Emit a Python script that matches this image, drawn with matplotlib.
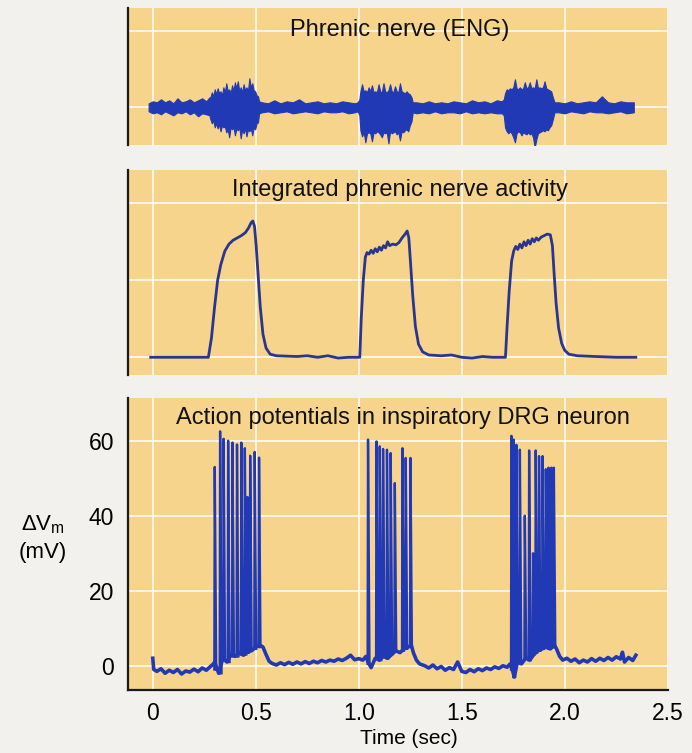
import matplotlib.pyplot as plt
import numpy as np

plt.rcParams['font.family'] = ['Liberation Sans', 'DejaVu Sans']
plt.rcParams['mathtext.default'] = 'regular'

# --- Phrenic nerve ENG: envelope (upper / lower) ---
eng_t = [-0.02, 0.0, 0.02, 0.04, 0.06, 0.08, 0.10, 0.12, 0.14, 0.16, 0.18, 0.20, 0.22, 0.24, 0.26, 0.275,
         0.280, 0.287, 0.294, 0.301, 0.308, 0.315, 0.322, 0.329, 0.336, 0.343, 0.350, 0.357, 0.364, 0.371,
         0.378, 0.385, 0.392, 0.399, 0.406, 0.413, 0.420, 0.427, 0.434, 0.441, 0.448, 0.455, 0.462, 0.469,
         0.476, 0.483, 0.490, 0.497, 0.504, 0.511, 0.516,
         0.53, 0.56, 0.59, 0.62, 0.65, 0.68, 0.71, 0.74, 0.77, 0.80, 0.83, 0.86, 0.89, 0.92, 0.95, 0.98, 0.995,
         1.003, 1.008, 1.016, 1.024, 1.032, 1.040, 1.048, 1.056, 1.064, 1.072, 1.080, 1.088, 1.096, 1.104,
         1.112, 1.120, 1.128, 1.136, 1.144, 1.152, 1.160, 1.168, 1.176, 1.184, 1.192, 1.200, 1.208, 1.216,
         1.224, 1.232, 1.240, 1.248, 1.256, 1.262,
         1.28, 1.31, 1.34, 1.37, 1.40, 1.43, 1.46, 1.49, 1.52, 1.55, 1.58, 1.61, 1.64, 1.67, 1.695,
         1.704, 1.710, 1.718, 1.726, 1.734, 1.742, 1.750, 1.758, 1.766, 1.774, 1.782, 1.790, 1.798, 1.806,
         1.814, 1.822, 1.830, 1.838, 1.846, 1.854, 1.862, 1.870, 1.878, 1.886, 1.894, 1.902, 1.910, 1.918,
         1.926, 1.934, 1.942, 1.950,
         1.97, 2.00, 2.03, 2.06, 2.09, 2.12, 2.15, 2.18, 2.21, 2.24, 2.27, 2.30, 2.335]
eng_hi = [0.4, 0.6, 0.5, 0.8, 0.5, 0.7, 0.4, 0.9, 0.5, 0.6, 0.8, 0.5, 0.7, 0.9, 0.6, 1.0,
          1.0, 1.5, 1.1, 1.8, 1.3, 1.9, 1.4, 1.6, 1.2, 2.0, 1.5, 2.4, 1.6, 1.8,
          1.4, 2.2, 1.7, 2.5, 1.9, 2.6, 1.6, 2.0, 1.5, 2.3, 1.7, 2.0, 1.6, 2.9,
          2.0, 2.4, 1.7, 1.6, 1.2, 1.1, 0.6,
          0.5, 0.4, 0.7, 0.4, 0.6, 0.5, 0.8, 0.4, 0.5, 0.6, 0.4, 0.5, 0.4, 0.6, 0.5, 0.4, 0.5,
          0.8, 1.6, 2.3, 1.6, 1.7, 1.5, 2.0, 1.6, 2.2, 1.5, 1.6, 1.5, 2.3, 1.6,
          1.5, 2.4, 1.6, 1.5, 1.7, 2.3, 1.6, 1.5, 2.1, 1.6, 1.5, 2.4, 1.6, 1.5,
          1.4, 1.6, 1.4, 1.3, 1.0, 0.5,
          0.5, 0.4, 0.6, 0.4, 0.5, 0.4, 0.6, 0.5, 0.4, 0.7, 0.5, 0.6, 0.4, 0.7, 0.6,
          0.8, 1.4, 1.8, 1.7, 1.9, 1.8, 2.0, 2.8, 1.9, 1.8, 2.0, 1.8, 1.9, 2.5,
          1.9, 2.0, 2.5, 1.9, 2.0, 1.9, 2.8, 1.9, 2.0, 1.9, 2.0, 2.6, 1.9, 1.8,
          1.7, 1.6, 1.0, 0.5,
          0.5, 0.4, 0.6, 0.4, 0.5, 0.6, 0.5, 1.1, 0.5, 0.4, 0.6, 0.5, 0.5]
eng_lo = [-0.4, -0.6, -0.5, -0.7, -0.4, -0.6, -0.8, -0.5, -0.6, -0.4, -0.7, -0.5, -0.9, -0.6, -0.7, -0.8,
          -1.2, -1.6, -1.3, -2.0, -1.6, -2.1, -1.7, -2.4, -1.8, -2.0, -1.9, -2.5, -2.2, -3.0,
          -2.0, -2.2, -2.0, -2.8, -2.1, -2.3, -2.0, -3.1, -2.2, -2.6, -2.1, -2.9, -2.2, -2.4,
          -2.1, -2.8, -2.0, -2.2, -1.6, -1.5, -0.6,
          -0.5, -0.4, -0.6, -0.5, -0.4, -0.6, -0.5, -0.4, -0.5, -0.6, -0.4, -0.5, -0.5, -0.4, -0.6, -0.5, -0.4,
          -0.8, -2.3, -2.9, -2.5, -3.5, -2.6, -2.5, -2.6, -3.4, -2.5, -2.6, -2.4, -2.5, -2.7,
          -3.0, -2.5, -2.6, -2.5, -3.6, -2.4, -2.6, -2.5, -2.4, -2.7, -2.5, -3.3, -2.4, -2.5,
          -2.3, -2.2, -2.4, -1.8, -1.4, -0.5,
          -0.6, -0.5, -0.6, -0.4, -0.6, -0.5, -0.5, -0.6, -0.4, -0.6, -0.5, -0.6, -0.5, -0.6, -0.6,
          -0.8, -2.0, -2.4, -2.6, -2.4, -2.6, -3.0, -3.5, -2.6, -2.4, -2.5, -2.8, -2.5, -2.6,
          -2.7, -2.5, -2.7, -2.6, -3.0, -4.0, -3.2, -2.6, -2.5, -2.4, -2.3, -2.4, -2.2, -2.3,
          -2.0, -1.8, -1.2, -0.5,
          -0.5, -0.6, -0.4, -0.5, -0.6, -0.4, -0.5, -0.5, -0.6, -0.5, -0.4, -0.6, -0.5]

# --- Integrated phrenic nerve activity ---
int_t = [-0.01, 0.27, 0.285, 0.30, 0.315, 0.33, 0.35, 0.37, 0.39, 0.41, 0.43, 0.45, 0.465, 0.478, 0.486, 0.494,
         0.502, 0.512, 0.522, 0.535, 0.55, 0.57, 0.60, 0.70, 0.75, 0.80, 0.85, 0.90, 0.95, 1.0,
         1.005, 1.012, 1.022, 1.032, 1.04, 1.05, 1.06, 1.07, 1.08, 1.09, 1.10, 1.11, 1.12, 1.13, 1.14, 1.15,
         1.165, 1.18, 1.195, 1.21, 1.225, 1.235, 1.243, 1.252, 1.262, 1.275, 1.29, 1.31, 1.34, 1.40, 1.45,
         1.50, 1.55, 1.60, 1.65, 1.70,
         1.712, 1.72, 1.73, 1.742, 1.752, 1.762, 1.772, 1.782, 1.792, 1.802, 1.812, 1.822, 1.832, 1.842, 1.852,
         1.862, 1.872, 1.885, 1.90, 1.915, 1.93, 1.94, 1.948, 1.958, 1.97, 1.985, 2.0, 2.02, 2.06, 2.15, 2.25, 2.345]
int_v = [0.0, 0.0, 0.25, 0.65, 1.0, 1.2, 1.38, 1.47, 1.52, 1.55, 1.58, 1.62, 1.68, 1.75, 1.77, 1.70,
         1.45, 1.05, 0.65, 0.30, 0.12, 0.04, 0.02, 0.01, 0.02, 0.0, 0.02, -0.01, 0.0, 0.0,
         0.0, 0.5, 1.0, 1.30, 1.36, 1.34, 1.39, 1.35, 1.41, 1.37, 1.43, 1.39, 1.45, 1.42, 1.50, 1.45,
         1.47, 1.46, 1.49, 1.55, 1.60, 1.64, 1.55, 1.20, 0.80, 0.40, 0.17, 0.07, 0.03, 0.02, 0.03,
         0.0, -0.01, 0.01, 0.0, 0.0,
         0.0, 0.4, 0.85, 1.25, 1.38, 1.44, 1.40, 1.47, 1.42, 1.50, 1.45, 1.52, 1.47, 1.54, 1.50,
         1.55, 1.52, 1.56, 1.58, 1.60, 1.59, 1.45, 1.10, 0.70, 0.38, 0.18, 0.09, 0.04, 0.02, 0.01, 0.0, 0.0]

# --- DRG neuron membrane potential: baseline trace ---
drg_t = [0.0, 0.005, 0.02, 0.04, 0.06, 0.08, 0.10, 0.12, 0.14, 0.16, 0.18, 0.20, 0.22, 0.24, 0.26, 0.28, 0.295,
         0.30, 0.32, 0.34, 0.36, 0.38, 0.40, 0.42, 0.44, 0.46, 0.48, 0.50, 0.52, 0.535, 0.55, 0.565, 0.58,
         0.60, 0.62, 0.64, 0.66, 0.68, 0.70, 0.72, 0.74, 0.76, 0.78, 0.80, 0.82, 0.84, 0.86, 0.88, 0.90,
         0.92, 0.94, 0.96, 0.97, 0.98, 1.00, 1.02, 1.035,
         1.045, 1.06, 1.08, 1.10, 1.12, 1.14, 1.16, 1.18, 1.20, 1.22, 1.24, 1.255, 1.265, 1.28, 1.295,
         1.32, 1.34, 1.36, 1.38, 1.40, 1.42, 1.44, 1.46, 1.48, 1.50, 1.52, 1.54, 1.56, 1.58, 1.60, 1.62,
         1.64, 1.66, 1.68, 1.70, 1.72, 1.735,
         1.745, 1.755, 1.77, 1.79, 1.81, 1.83, 1.85, 1.87, 1.89, 1.91, 1.93, 1.95, 1.96, 1.975, 1.99,
         2.01, 2.03, 2.05, 2.07, 2.09, 2.11, 2.13, 2.15, 2.17, 2.19, 2.21, 2.23, 2.25, 2.27, 2.28, 2.29,
         2.31, 2.33, 2.345]
drg_v = [2.0, -1.0, -1.5, -0.8, -2.0, -1.2, -1.8, -1.0, -2.2, -1.4, -1.7, -0.9, -1.6, -0.6, -1.2, -0.2, 0.5,
         1.0, -2.0, 2.0, 1.0, 3.0, 2.5, 3.5, 2.8, 3.8, 4.0, 5.0, 5.5, 5.0, 3.0, 1.2, 0.6,
         0.2, 0.8, 0.3, 0.9, 0.4, 1.0, 0.5, 1.1, 0.6, 1.2, 0.8, 1.4, 1.0, 1.5, 1.2, 1.8,
         1.4, 2.0, 2.8, 2.2, 1.6, 1.9, 1.5, 2.5,
         1.0, -0.5, 2.0, 1.5, 2.5, 2.0, 3.0, 4.0, 3.5, 4.5, 5.0, 5.5, 3.5, 1.5, 0.5,
         0.0, -0.6, 0.2, -0.8, -0.2, -1.2, -0.5, -1.0, 1.0, -1.5, -1.8, -1.0, -1.6, -0.8, -1.3, -0.6,
         -1.0, -0.3, -0.7, 0.0, -0.4, 0.5,
         -1.0, -3.0, 1.0, 0.5, 2.0, 1.5, 3.0, 4.0, 4.5, 5.0, 4.5, 5.5, 4.5, 2.5, 1.5,
         2.0, 1.2, 1.8, 0.8, 1.5, 1.0, 1.9, 1.2, 2.0, 1.4, 2.2, 1.5, 2.4, 1.8, 3.6, 1.0,
         2.2, 1.4, 2.8]

# --- action potentials: time, peak, foot ---
spike_t = [0.301, 0.327, 0.344, 0.366, 0.387, 0.409, 0.430, 0.447, 0.460, 0.473, 0.495, 0.516,
           1.045, 1.086, 1.102, 1.118, 1.137, 1.155, 1.175, 1.212, 1.228, 1.251,
           1.741, 1.752, 1.765, 1.782, 1.806, 1.827, 1.846, 1.859, 1.875, 1.892, 1.908, 1.921, 1.935, 1.947]
spike_peak = [53.0, 62.5, 60.5, 60.0, 59.5, 59.0, 59.5, 58.0, 45.0, 56.0, 57.0, 55.5,
              60.3, 59.8, 58.5, 57.8, 57.6, 56.7, 48.7, 58.0, 55.4, 55.4,
              61.3, 60.3, 58.9, 57.6, 40.0, 57.4, 30.0, 57.4, 55.9, 55.9, 52.4, 52.8, 52.8, 52.8]
spike_foot = [-1.0, -2.0, 1.5, 1.0, 2.5, 2.5, 3.0, 3.0, 3.5, 4.0, 4.5, 5.0,
              0.5, 2.0, 1.5, 2.5, 2.0, 3.0, 4.0, 4.0, 4.5, 5.0,
              -1.0, -3.0, 1.0, 0.5, 2.0, 1.5, 3.0, 3.5, 4.0, 4.5, 4.8, 4.5, 5.0, 5.0]

time_ticks = [0, 0.5, 1.0, 1.5, 2.0, 2.5]
time_labels = ['0', '0.5', '1.0', '1.5', '2.0', '2.5']
mv_ticks = [0, 20, 40, 60]

panel_bg = '#f7d48c'
fig_bg = '#f3f1ed'
trace_blue = '#2139b5'

fig = plt.figure(figsize=(6.92, 7.53), dpi=100, facecolor=fig_bg)
ax1 = fig.add_axes([0.185, 0.807, 0.780, 0.182])
ax2 = fig.add_axes([0.185, 0.502, 0.780, 0.272])
ax3 = fig.add_axes([0.185, 0.084, 0.780, 0.388])

for ax in (ax1, ax2, ax3):
    ax.set_facecolor(panel_bg)
    ax.set_xlim(-0.12, 2.5)
    for s in ('top', 'right'):
        ax.spines[s].set_visible(False)
    ax.spines['left'].set_color('#1a1a1a')
    ax.spines['left'].set_linewidth(1.6)
    ax.set_xticks(time_ticks)
    ax.tick_params(length=0)
    ax.grid(True, color='white', linewidth=1.2, alpha=0.9)
    ax.set_axisbelow(True)

# top: ENG
ax1.spines['bottom'].set_visible(False)
ax1.set_ylim(-3.8, 9.9)
ax1.set_yticks([0, 7.6])
ax1.set_xticklabels([])
ax1.set_yticklabels([])
ax1.fill_between(eng_t, eng_lo, eng_hi, color=trace_blue, linewidth=0.8, edgecolor=trace_blue)
ax1.text(0.504, 0.84, 'Phrenic nerve (ENG)', transform=ax1.transAxes,
         ha='center', va='center', fontsize=17, color='#111111')

# middle: integrated
ax2.spines['bottom'].set_visible(False)
ax2.set_ylim(-0.23, 2.43)
ax2.set_yticks([0, 1, 2])
ax2.set_xticklabels([])
ax2.set_yticklabels([])
ax2.plot(int_t, int_v, color='#2a3590', linewidth=2.0)
ax2.text(0.504, 0.905, 'Integrated phrenic nerve activity', transform=ax2.transAxes,
         ha='center', va='center', fontsize=17, color='#111111')

# bottom: DRG neuron
ax3.spines['bottom'].set_color('#1a1a1a')
ax3.spines['bottom'].set_linewidth(1.6)
ax3.set_ylim(-6.4, 71.5)
ax3.set_yticks(mv_ticks)
ax3.set_xticklabels(time_labels, fontsize=16.5)
ax3.tick_params(axis='x', pad=9)
ax3.tick_params(axis='y', pad=10, labelsize=16.5)

# each spike: fast upstroke, slightly slower downstroke
st = np.array(spike_t)
sx = np.column_stack([st - 0.002, st, st + 0.007, np.full_like(st, np.nan)]).ravel()
sy = np.column_stack([spike_foot, spike_peak, spike_foot, np.full_like(st, np.nan)]).ravel()
ax3.plot(sx, sy, color=trace_blue, linewidth=1.7)
ax3.plot(drg_t, drg_v, color=trace_blue, linewidth=2.6)
ax3.text(0.51, 0.93, 'Action potentials in inspiratory DRG neuron', transform=ax3.transAxes,
         ha='center', va='center', fontsize=17, color='#111111')
ax3.set_xlabel('Time (sec)', fontsize=15)
ax3.xaxis.set_label_coords(0.52, -0.136)

fig.text(0.062, 0.285, '$\\Delta$V$_{m}$\n(mV)', ha='center', va='center', fontsize=16,
         linespacing=1.35)

fig.savefig('out.png', dpi=100, facecolor=fig_bg)
